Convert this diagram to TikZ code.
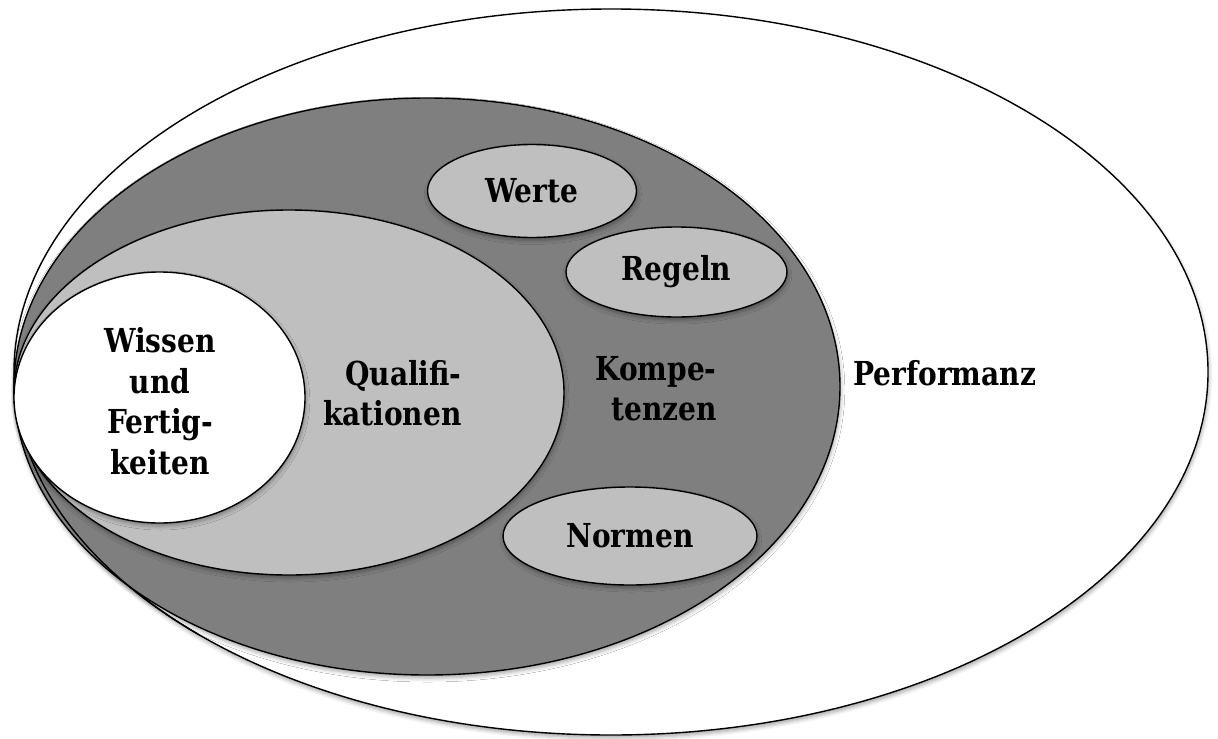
\documentclass[tikz,border=0pt]{standalone}
\usepackage{fontspec}
\setmainfont{DejaVu Serif}[FakeStretch=0.85]
\usepackage{tikz}
\usetikzlibrary{shapes.geometric,shadows.blur,positioning}

\definecolor{dunkelgrau}{HTML}{7F7F7F}
\definecolor{hellgrau}{HTML}{BFBFBF}

\tikzset{
  oval/.style={ellipse, draw, line width=0.7pt, inner sep=0pt,
    blur shadow={shadow xshift=0.4pt, shadow yshift=-1.5pt, shadow blur radius=2pt, shadow opacity=35}},
  schrift/.style={font=\fontsize{16.5}{20.25}\selectfont\bfseries, inner sep=0pt}
}

\begin{document}
\begin{tikzpicture}[x=0.5pt,y=-0.5pt]
  \useasboundingbox (0,0) rectangle (1218,738);
  % aeussere Ellipsen
  \node [oval, fill=white, minimum width=597pt, minimum height=363pt] (perf) at (611,372) {};
  \node [oval, fill=dunkelgrau, minimum width=413pt, minimum height=288.5pt] (komp) at (427,386.5) {};
  \node [oval, fill=hellgrau, minimum width=275pt, minimum height=182.5pt] (qual) at (289,392.5) {};
  \node [oval, fill=white, minimum width=145.5pt, minimum height=125.5pt] (wiss) at (159.5,397.5) {};
  % Umriss von Performanz unten links sichtbar
  \begin{scope}
    \clip (0,455) rectangle (200,640);
    \draw [line width=0.7pt] (perf.center) ellipse [x radius=298.5pt, y radius=181.5pt];
  \end{scope}
  % kleine Ellipsen
  \node [oval, fill=hellgrau, minimum width=104.5pt, minimum height=46.5pt, schrift] (werte) at (532,191) {Werte};
  \node [oval, fill=hellgrau, minimum width=110.5pt, minimum height=45pt, schrift] (regeln) at (676.5,272) {Regeln};
  \node [oval, fill=hellgrau, minimum width=127pt, minimum height=49pt, schrift] (normen) at (630,536) {Normen};
  % Beschriftungen
  \node [schrift, align=center] (wisstext) at (160,401) {Wissen\\und\\Fertig-\\keiten};
  \node [schrift, align=right, anchor=east] (qualtext) at (462,393) {Qualifi-\\kationen};
  \node [schrift, align=right, anchor=east] (komptext) at (717,388.5) {Kompe-\\tenzen};
  \node [schrift, anchor=base west] (perftext) at (853,385) {Performanz};
\end{tikzpicture}
\end{document}
